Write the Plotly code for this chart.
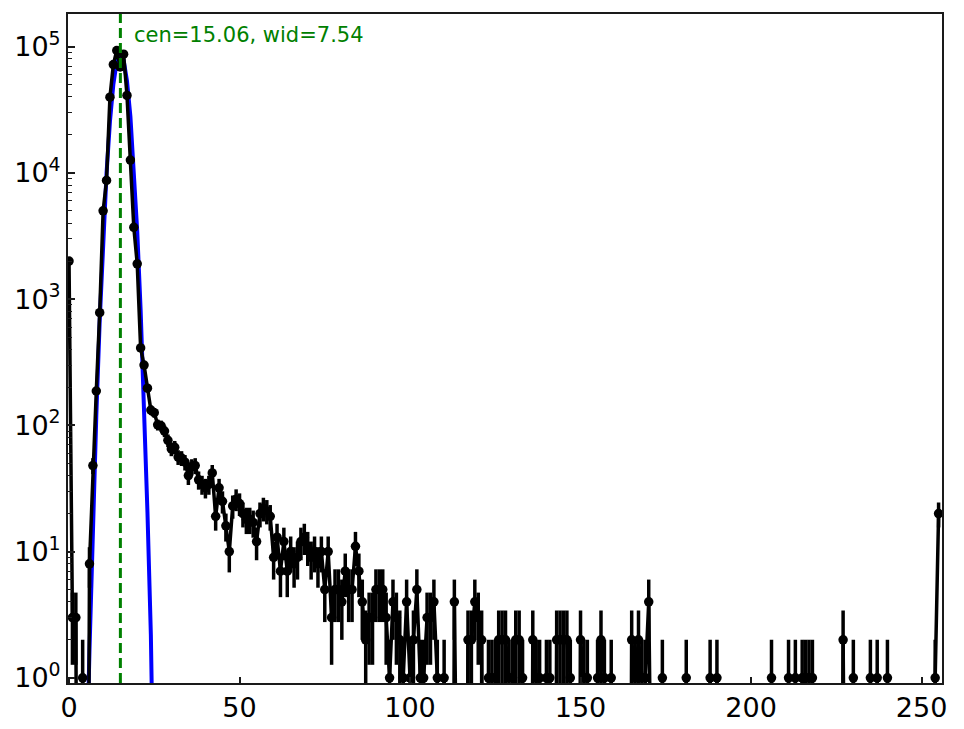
import numpy as np
import plotly.graph_objects as go

# ---- data ----
bin_index = list(range(256))
counts = [
    2000, 3, 3, 0, 1, 0, 8, 48, 187, 780,
    5000, 8700, 39700, 72000, 93000, 69000, 87000, 41000, 12600, 3700,
    1900, 410, 300, 197, 132, 126, 101, 99, 90, 76,
    65, 67, 56, 55, 51, 40, 47, 48, 37, 34,
    32, 34, 42, 19, 32, 25, 16, 10, 23, 26,
    24, 20, 18, 18, 17, 12, 20, 22, 21, 19,
    9, 13, 7, 12, 7, 10, 8, 9, 12, 13,
    11, 9, 10, 8, 10, 5, 10, 3, 5, 5,
    4, 7, 5, 5, 11, 7, 4, 2, 3, 3,
    5, 5, 5, 3, 1, 4, 3, 2, 1, 4,
    1, 2, 5, 1, 1, 3, 3, 4, 1, 0,
    1, 0, 0, 4, 0, 0, 0, 2, 2, 4,
    3, 2, 0, 1, 1, 1, 2, 2, 2, 1,
    1, 2, 2, 1, 0, 0, 2, 1, 1, 0,
    1, 1, 0, 2, 2, 2, 2, 1, 0, 0,
    2, 1, 1, 0, 0, 1, 2, 1, 0, 1,
    0, 0, 0, 0, 0, 2, 1, 2, 1, 1,
    4, 0, 0, 0, 1, 0, 0, 0, 0, 0,
    0, 1, 0, 0, 0, 0, 0, 0, 1, 0,
    1, 0, 0, 0, 0, 0, 0, 0, 0, 0,
    0, 0, 0, 0, 0, 0, 1, 0, 0, 0,
    0, 1, 0, 1, 0, 1, 1, 1, 1, 0,
    0, 0, 0, 0, 0, 0, 0, 2, 0, 0,
    1, 0, 0, 0, 0, 1, 0, 1, 0, 0,
    1, 0, 0, 0, 0, 0, 0, 0, 0, 0,
    0, 0, 0, 0, 1, 20,
]
fit_center = 15.06
fit_width = 7.54
fit_amplitude = 88000
fit_bins = list(range(0, 36))

x_ticks = [0, 50, 100, 150, 200, 250]
y_ticks = [1, 10, 100, 1000, 10000, 100000]
y_ticktext = ["10<sup>0</sup>", "10<sup>1</sup>", "10<sup>2</sup>",
              "10<sup>3</sup>", "10<sup>4</sup>", "10<sup>5</sup>"]
annotation_text = f"cen={fit_center:.2f}, wid={fit_width:.2f}"

# ---- derived ----
x = np.array(bin_index, dtype=float)
y = np.array(counts, dtype=float)
# emulate log-axis clipping of empty bins for the connecting line
y_line = np.where(y > 0, y, 1e-6)
nz = y > 0
fx = np.array(fit_bins, dtype=float)
fy = fit_amplitude * np.exp(-(fx - fit_center) ** 2 / fit_width)

minor_vals = [m * 10 ** d for d in range(0, 6) for m in range(2, 10)]

fig = go.Figure()

fig.add_trace(go.Scatter(
    x=fx, y=fy, mode="lines",
    line=dict(color="#0000ff", width=4),
    hoverinfo="skip", showlegend=False,
))
fig.add_trace(go.Scatter(
    x=x, y=y_line, mode="lines",
    line=dict(color="black", width=3.5),
    hoverinfo="skip", showlegend=False,
))
fig.add_trace(go.Scatter(
    x=x[nz], y=y[nz], mode="markers",
    marker=dict(color="black", size=9.5),
    error_y=dict(type="data", array=np.sqrt(y[nz]), visible=True,
                 color="black", thickness=3.5, width=0),
    showlegend=False,
))

fig.add_shape(type="line", xref="x", yref="paper",
              x0=fit_center, x1=fit_center, y0=0, y1=1,
              line=dict(color="#008000", width=3, dash="10px,5px"))

fig.add_annotation(xref="x", yref="paper", x=18.6, y=0.968,
                   text=annotation_text, showarrow=False,
                   xanchor="left", yanchor="middle",
                   font=dict(color="#008000", size=21, family="DejaVu Sans"))

axis_common = dict(
    showline=True, linecolor="#1a1a1a", linewidth=2, mirror=True,
    showgrid=False, zeroline=False, ticks="inside", automargin=False,
    tickcolor="#1a1a1a", tickwidth=1.5,
    tickfont=dict(size=27, family="DejaVu Sans", color="black"),
)

fig.update_xaxes(range=[-0.3, 256], tickvals=x_ticks, ticklen=6,
                 **axis_common)
fig.update_yaxes(type="log", range=[np.log10(0.91), np.log10(1.81e5)],
                 tickvals=y_ticks, ticktext=y_ticktext, ticklen=7,
                 minor=dict(tickvals=minor_vals, ticks="inside", ticklen=4,
                            tickwidth=1.2, tickcolor="#1a1a1a", showgrid=False),
                 **axis_common)

fig.update_layout(
    width=964, height=729,
    margin=dict(l=68, r=22, t=14, b=46),
    plot_bgcolor="white", paper_bgcolor="white",
    font=dict(family="DejaVu Sans"),
)

fig.write_html("out.html", config={"displayModeBar": False},
               post_script="document.body.style.margin='0px';")
